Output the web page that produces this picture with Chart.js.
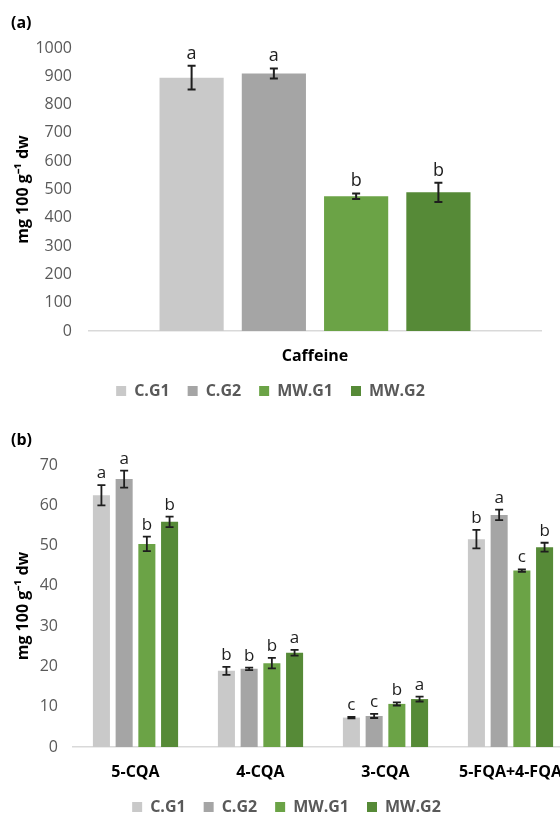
<!DOCTYPE html>
<html>
<head>
<meta charset="utf-8">
<script src="https://cdn.jsdelivr.net/npm/chart.js@4.4.0/dist/chart.umd.min.js"></script>
<style>
  html, body { margin: 0; padding: 0; background: #fff; }
  body { width: 560px; height: 816px; overflow: hidden; position: relative; font-family: "Open Sans", sans-serif; }
  canvas { position: absolute; left: 0; }
  .tag { position: absolute; left: 11px; font-weight: bold; font-size: 16px; line-height: 16px; color: #000; }
</style>
</head>
<body>
<canvas id="caffeineChart" width="560" height="409" style="top:0"></canvas>
<canvas id="acidChart" width="590" height="409" style="top:416px"></canvas>
<div class="tag" style="top:14px">(a)</div>
<div class="tag" style="top:431px">(b)</div>
<script>
// groups / colours
var groups = ['C.G1', 'C.G2', 'MW.G1', 'MW.G2'];
var groupColors = ['#c9c9c9', '#a5a5a5', '#6ba346', '#568a37'];

// (a) caffeine, one value per group
var caffeineLabels = ['Caffeine'];
var caffeineMeans = [895, 910, 476, 490];
var caffeineErrors = [42, 18, 10, 34];
var caffeineLetters = ['a', 'a', 'b', 'b'];

// (b) chlorogenic acids
var acidLabels = ['5-CQA', '4-CQA', '3-CQA', '5-FQA+4-FQA'];
var acidCG1 = [62.5, 18.9, 7.3, 51.6];
var acidCG2 = [66.5, 19.4, 7.7, 57.6];
var acidMWG1 = [50.4, 20.8, 10.7, 43.8];
var acidMWG2 = [55.9, 23.4, 11.9, 49.6];
var acidErrCG1 = [2.5, 1.0, 0.2, 2.3];
var acidErrCG2 = [2.1, 0.3, 0.5, 1.3];
var acidErrMWG1 = [1.8, 1.3, 0.4, 0.3];
var acidErrMWG2 = [1.3, 0.7, 0.6, 1.1];
var acidLetCG1 = ['a', 'b', 'c', 'b'];
var acidLetCG2 = ['a', 'b', 'c', 'a'];
var acidLetMWG1 = ['b', 'b', 'b', 'c'];
var acidLetMWG2 = ['b', 'a', 'a', 'b'];

var FONT = 'Open Sans';

// draws the error bars and the letters above them
var errorBarPlugin = {
  id: 'errorBars',
  afterDatasetsDraw: function(chart, args, opts) {
    var ctx = chart.ctx;
    var yScale = chart.scales.y;
    ctx.save();
    chart.data.datasets.forEach(function(ds, di) {
      var meta = chart.getDatasetMeta(di);
      meta.data.forEach(function(bar, i) {
        var v = ds.data[i], e = ds.errors[i];
        var top = yScale.getPixelForValue(v + e);
        var bottom = yScale.getPixelForValue(v - e);
        ctx.strokeStyle = '#1e1e1e';
        ctx.lineWidth = opts.lineWidth;
        ctx.beginPath();
        ctx.moveTo(bar.x, top); ctx.lineTo(bar.x, bottom);
        ctx.moveTo(bar.x - opts.cap, top); ctx.lineTo(bar.x + opts.cap, top);
        ctx.moveTo(bar.x - opts.cap, bottom); ctx.lineTo(bar.x + opts.cap, bottom);
        ctx.stroke();
        ctx.fillStyle = '#1e1e1e';
        ctx.font = opts.letterSize + 'px "' + FONT + '"';
        ctx.textAlign = 'center';
        ctx.textBaseline = 'alphabetic';
        ctx.fillText(ds.letters[i], bar.x, top - opts.letterGap);
      });
    });
    ctx.restore();
  }
};

function makeDataset(i, data, errors, letters, barPct, catPct) {
  return {
    label: groups[i],
    data: data,
    errors: errors,
    letters: letters,
    backgroundColor: groupColors[i],
    borderWidth: 0,
    barPercentage: barPct,
    categoryPercentage: catPct
  };
}

function makeChart(id, labels, datasets, cfg) {
  return new Chart(document.getElementById(id), {
    type: 'bar',
    data: { labels: labels, datasets: datasets },
    plugins: [errorBarPlugin],
    options: {
      responsive: false,
      animation: false,
      devicePixelRatio: 1,
      layout: { padding: { top: cfg.padTop, right: cfg.padRight, left: 0, bottom: 0 } },
      scales: {
        x: {
          ticks: { color: '#000', font: { family: FONT, size: 16, weight: 'bold' }, padding: 16, maxRotation: 0, autoSkip: false },
          grid: { display: false, drawTicks: false },
          border: { display: true, color: '#d9d9d9', width: 1.5 },
          afterFit: function(s) { s.height = 34; }
        },
        y: {
          min: 0,
          max: cfg.yMax,
          ticks: {
            stepSize: cfg.yStep, color: '#595959', font: { family: FONT, size: 16 }, padding: cfg.tickPad,
            callback: function(v) { return String(v); }
          },
          grid: { display: false, drawTicks: false },
          border: { display: false },
          title: { display: true, text: 'mg 100 g\u207B\u00B9 dw', color: '#000', font: { family: FONT, size: 16, weight: 'bold' }, padding: { top: 14, bottom: 0 } },
          afterFit: function(s) { s.width = cfg.yWidth; }
        }
      },
      plugins: {
        legend: {
          position: 'bottom',
          labels: { boxWidth: 10, boxHeight: 10, padding: 18, color: '#595959', font: { family: FONT, size: 16, weight: 'bold' } }
        },
        tooltip: { enabled: false },
        errorBars: cfg.err
      }
    }
  });
}

var caffeineSets = groups.map(function(g, i) {
  return makeDataset(i, [caffeineMeans[i]], [caffeineErrors[i]], [caffeineLetters[i]], 0.78, 0.728);
});

makeChart('caffeineChart', caffeineLabels, caffeineSets, {
  padTop: 48, padRight: 19, yMax: 1000, yStep: 100, yWidth: 89, tickPad: 17,
  err: { lineWidth: 2, cap: 4, letterSize: 18, letterGap: 7 }
});

var acidSets = [
  makeDataset(0, acidCG1, acidErrCG1, acidLetCG1, 0.75, 0.727),
  makeDataset(1, acidCG2, acidErrCG2, acidLetCG2, 0.75, 0.727),
  makeDataset(2, acidMWG1, acidErrMWG1, acidLetMWG1, 0.75, 0.727),
  makeDataset(3, acidMWG2, acidErrMWG2, acidLetMWG2, 0.75, 0.727)
];

makeChart('acidChart', acidLabels, acidSets, {
  padTop: 49, padRight: 17, yMax: 70, yStep: 10, yWidth: 73, tickPad: 15,
  err: { lineWidth: 1.8, cap: 4, letterSize: 17, letterGap: 7 }
});
</script>
</body>
</html>
